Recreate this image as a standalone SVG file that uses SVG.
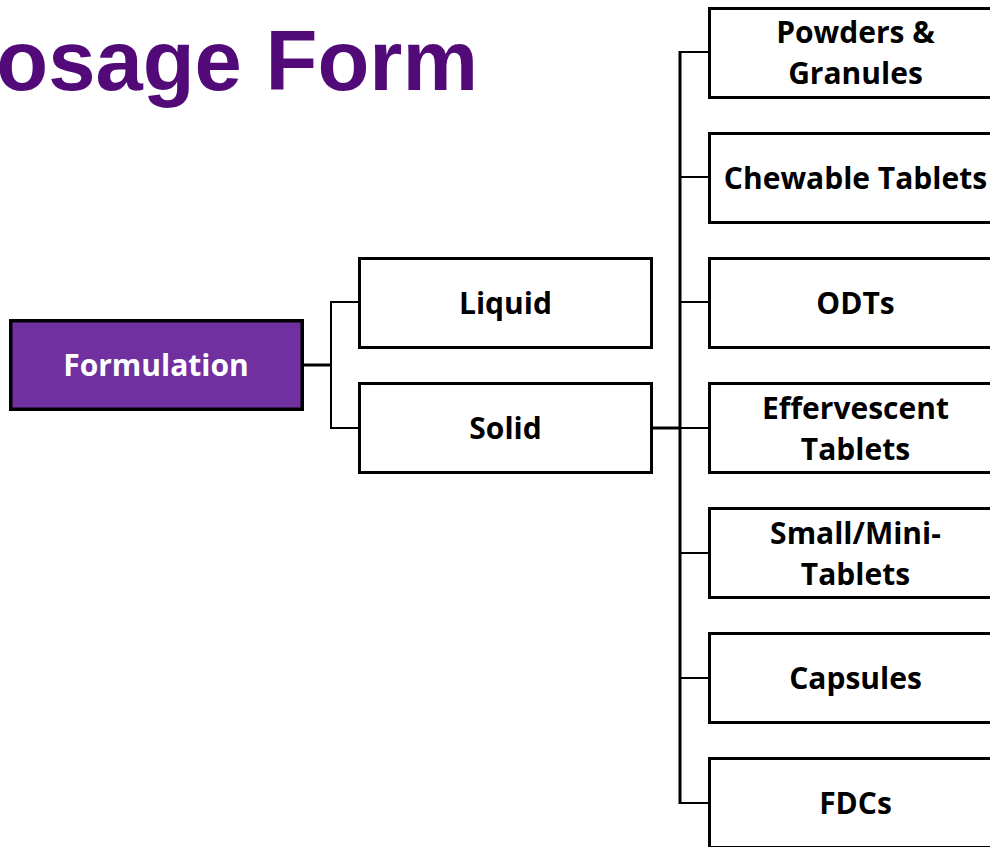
<svg xmlns="http://www.w3.org/2000/svg" width="990" height="847" viewBox="0 0 990 847">
<style>
.box{fill:#ffffff;stroke:#000000;stroke-width:3}
.root{fill:#7030A0;stroke:#000000;stroke-width:3.5}
.lbl{font-family:"Open Sans",Lato,"Liberation Sans",sans-serif;font-weight:bold;font-size:30px;fill:#000000;text-anchor:middle}
.wl{fill:#ffffff}
.thin{stroke:#000000;stroke-width:2;fill:none}
.thick{stroke:#000000;stroke-width:3;fill:none}
.title{font-family:"Liberation Sans",Arial,sans-serif;font-weight:bold;font-size:85px;fill:#520A78;text-anchor:end}
</style>
<rect width="990" height="847" fill="#ffffff"/>
<text class="title" x="478" y="90">Dosage Form</text>
<g id="connectors">
<line class="thick" x1="303" y1="365" x2="331" y2="365"/>
<path class="thin" d="M358 302 H331 V428 H358"/>
<line class="thick" x1="652" y1="428" x2="681" y2="428"/>
<line class="thick" x1="680" y1="51" x2="680" y2="804"/>
<line class="thin" x1="680" y1="52" x2="709" y2="52"/>
<line class="thin" x1="680" y1="177" x2="709" y2="177"/>
<line class="thin" x1="680" y1="302" x2="709" y2="302"/>
<line class="thin" x1="680" y1="428" x2="709" y2="428"/>
<line class="thin" x1="680" y1="553" x2="709" y2="553"/>
<line class="thin" x1="680" y1="678" x2="709" y2="678"/>
<path class="thin" d="M680 803 H709"/>
</g>
<g id="formulation"><rect class="root" x="10.75" y="320.75" width="291.5" height="88.5"/><text class="lbl wl" x="156" y="376">Formulation</text></g>
<g id="liquid"><rect class="box" x="359.5" y="258.5" width="292" height="89"/><text class="lbl" x="505.5" y="314">Liquid</text></g>
<g id="solid"><rect class="box" x="359.5" y="383.5" width="292" height="89"/><text class="lbl" x="505.5" y="439">Solid</text></g>
<g id="powders"><rect class="box" x="709.5" y="8.5" width="292" height="89"/><text class="lbl" x="855.5" y="43">Powders &amp;</text><text class="lbl" x="855.5" y="84">Granules</text></g>
<g id="chewable"><rect class="box" x="709.5" y="133.5" width="292" height="89"/><text class="lbl" x="855.5" y="189">Chewable Tablets</text></g>
<g id="odts"><rect class="box" x="709.5" y="258.5" width="292" height="89"/><text class="lbl" x="855.5" y="314">ODTs</text></g>
<g id="effervescent"><rect class="box" x="709.5" y="383.5" width="292" height="89"/><text class="lbl" x="855.5" y="419">Effervescent</text><text class="lbl" x="855.5" y="460">Tablets</text></g>
<g id="small"><rect class="box" x="709.5" y="508.5" width="292" height="89"/><text class="lbl" x="855.5" y="544">Small/Mini-</text><text class="lbl" x="855.5" y="585">Tablets</text></g>
<g id="capsules"><rect class="box" x="709.5" y="633.5" width="292" height="89"/><text class="lbl" x="855.5" y="689">Capsules</text></g>
<g id="fdcs"><rect class="box" x="709.5" y="758.5" width="292" height="89"/><text class="lbl" x="855.5" y="814">FDCs</text></g>
</svg>
